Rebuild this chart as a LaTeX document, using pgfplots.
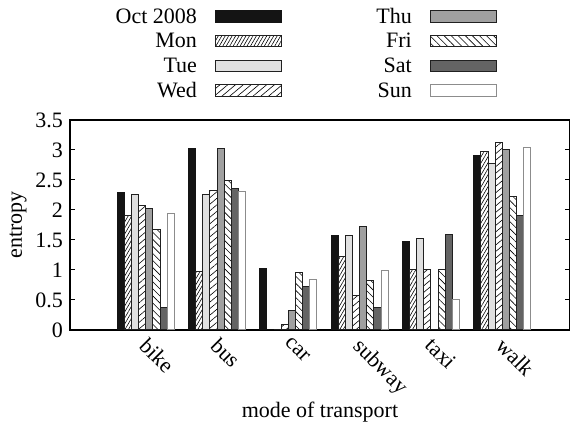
\documentclass[border=0pt]{standalone}
\usepackage{fontspec}
\setmainfont{Liberation Serif}
\usepackage{pgfplots}
\usepackage{pgfplotstable}
\pgfplotsset{compat=1.18}
\usetikzlibrary{patterns.meta}

\definecolor{octfill}{HTML}{141414}
\definecolor{tuefill}{HTML}{E0E0E0}
\definecolor{thufill}{HTML}{A0A0A0}
\definecolor{satfill}{HTML}{646464}
\definecolor{baredge}{HTML}{202020}
\definecolor{sunedge}{HTML}{8C8C8C}

% entropy per mode of transport: whole month and each weekday
\pgfplotstableread{
pos  oct   mon   tue   wed   thu   fri   sat   sun
0    2.29  1.91  2.26  2.07  2.02  1.67  0.37  1.94
1    3.02  0.98  2.26  2.32  3.03  2.49  2.36  2.30
2    1.03  0.00  0.00  0.09  0.32  0.95  0.73  0.84
3    1.58  1.22  1.57  0.57  1.72  0.83  0.37  0.99
4    1.47  1.00  1.52  1.00  0.00  1.00  1.59  0.51
5    2.90  2.98  2.78  3.12  3.00  2.22  1.90  3.04
}\entropytable

\begin{document}
\begin{tikzpicture}[font=\fontsize{11}{13}\selectfont]
\useasboundingbox (-35pt,-48pt) rectangle (250pt,165pt);
\begin{axis}[
  at={(0pt,0pt)}, anchor=south west,
  scale only axis, width=250pt, height=105pt,
  xmin=-1.063, xmax=5.95, ymin=0, ymax=3.5,
  ybar, bar width=0.1,
  axis line style={line width=0.6pt},
  xtick={0,...,5},
  xticklabels={bike,bus,car,subway,taxi,walk},
  xtick style={draw=none},
  xticklabel style={xshift=1.6pt,yshift=-3pt,rotate=-45,anchor=north west,inner sep=0pt},
  ytick={0,0.5,...,3.5},
  ytick pos=both, yticklabel pos=left,
  tick align=inside,
  major tick length=2.5pt,
  ytick style={line width=0.5pt, black},
  /pgf/number format/assume math mode=true,
  xlabel={mode of transport},
  ylabel={entropy},
  xlabel style={at={(axis description cs:0.5,-0.419)}, anchor=base},
  ylabel style={at={(axis description cs:-0.104,0.5)}, anchor=center},
  legend columns=2,
  legend plot pos=right,
  legend cell align=right,
  legend image code/.code={\draw[#1,bar shift=0pt] (0pt,-2pt) rectangle (33pt,3.85pt);},
  legend style={
    at={(axis description cs:0.8544,1.530)}, anchor=north east,
    draw=none, fill=none, inner sep=0pt,
    nodes={inner sep=0pt, text height=7pt, text depth=2pt},
    row sep=3.4pt,
    /tikz/every odd column/.append style={column sep=9pt},
    /tikz/every even column/.append style={column sep=47.2pt},
  },
]
% plots are listed so that the two-column legend reads Oct..Wed | Thu..Sun
\addplot[fill=octfill, draw=octfill, line width=0.5pt, bar shift=-0.35]
  table[x=pos,y=oct]{\entropytable};
\addlegendentry{Oct 2008}
\addplot[fill=thufill, draw=baredge, line width=0.5pt, bar shift=0.05]
  table[x=pos,y=thu]{\entropytable};
\addlegendentry{Thu}
\addplot[pattern={Lines[angle=60,distance=1.5pt,line width=0.3pt]}, draw=baredge, line width=0.5pt, bar shift=-0.25]
  table[x=pos,y=mon]{\entropytable};
\addlegendentry{Mon}
\addplot[pattern={Lines[angle=-45,distance=2.5pt,line width=0.3pt]}, draw=baredge, line width=0.5pt, bar shift=0.15]
  table[x=pos,y=fri]{\entropytable};
\addlegendentry{Fri}
\addplot[fill=tuefill, draw=baredge, line width=0.5pt, bar shift=-0.15]
  table[x=pos,y=tue]{\entropytable};
\addlegendentry{Tue}
\addplot[fill=satfill, draw=baredge, line width=0.5pt, bar shift=0.25]
  table[x=pos,y=sat]{\entropytable};
\addlegendentry{Sat}
\addplot[pattern={Lines[angle=40,distance=2.5pt,line width=0.3pt]}, draw=baredge, line width=0.5pt, bar shift=-0.05]
  table[x=pos,y=wed]{\entropytable};
\addlegendentry{Wed}
\addplot[fill=white, draw=sunedge, line width=0.5pt, bar shift=0.35]
  table[x=pos,y=sun]{\entropytable};
\addlegendentry{Sun}
\end{axis}
\end{tikzpicture}
\end{document}
